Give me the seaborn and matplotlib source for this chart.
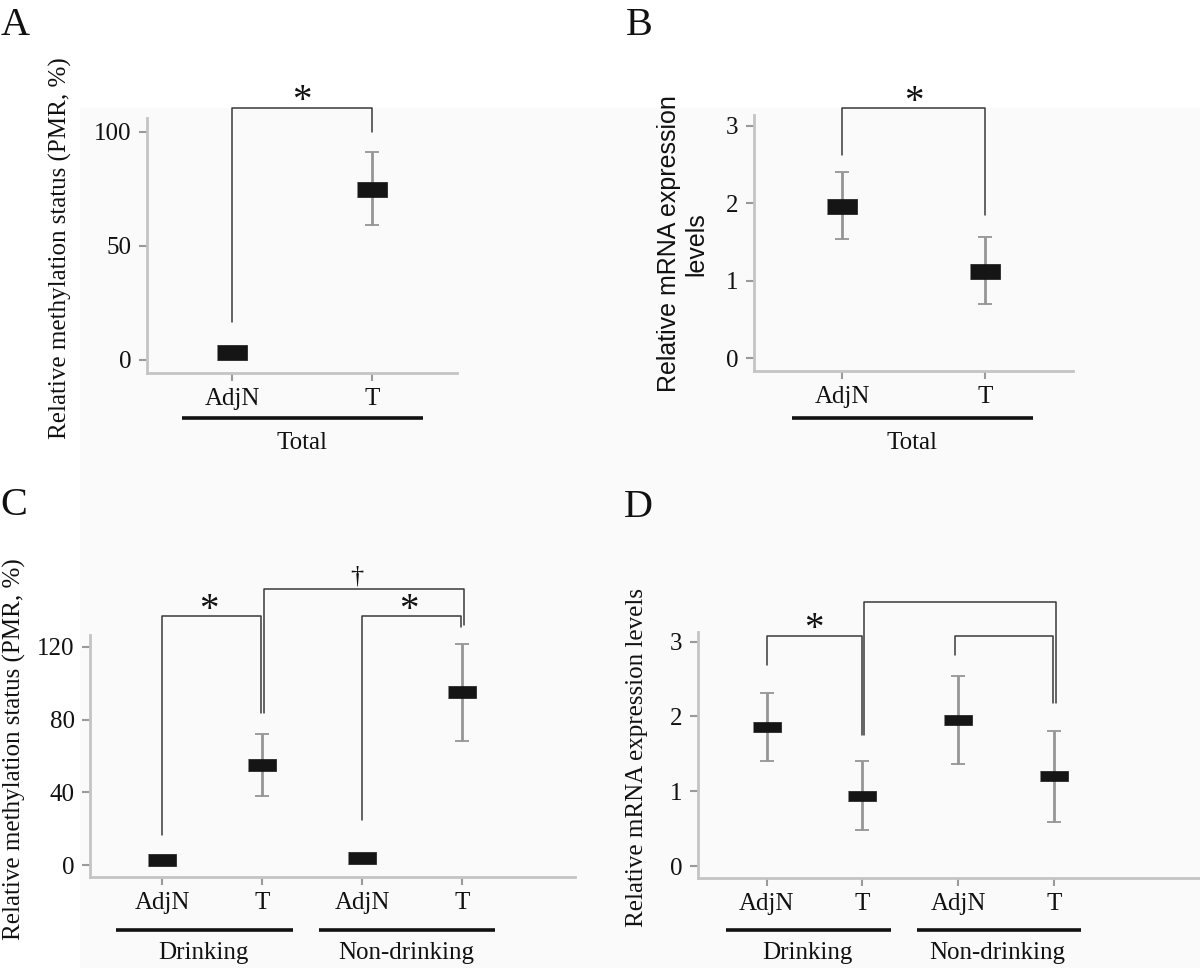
import numpy as np
import matplotlib.pyplot as plt
import matplotlib.patches as mpatches
import seaborn as sns

# values (mean marker and error-bar half length)
a_ticks = ["AdjN", "T"]
a_means = [3.3, 75.0]
a_err = [1.5, 16.0]

b_ticks = ["AdjN", "T"]
b_means = [1.97, 1.13]
b_err = [0.43, 0.43]

c_ticks = ["AdjN", "T", "AdjN", "T"]
c_means = [2.5, 55.0, 4.0, 95.0]
c_err = [1.5, 17.0, 1.5, 26.5]

d_ticks = ["AdjN", "T", "AdjN", "T"]
d_means = [1.86, 0.94, 1.95, 1.20]
d_err = [0.46, 0.46, 0.59, 0.61]

total_group = ["Total"]
drink_groups = ["Drinking", "Non-drinking"]

W, H = 1200, 968
FS = 18

sns.set_theme(style="white")
plt.rcParams["font.family"] = ["Liberation Serif", "DejaVu Serif"]

fig = plt.figure(figsize=(W / 100, H / 100), dpi=100)
fig.add_artist(mpatches.Rectangle((80 / W, 0), (W - 80) / W, (H - 108) / H,
                                  transform=fig.transFigure, color="#fafafa", zorder=0))


def px_axes(left, top, right, bottom):
    return fig.add_axes([left / W, 1 - bottom / H, (right - left) / W, (bottom - top) / H])


def draw_panel(ax, ticks, means, err, xlim, ylim, yticks, box_w, box_ratio):
    pos = np.arange(len(means))
    ax.set_facecolor("none")
    ax.errorbar(pos, means, yerr=err, fmt="none", ecolor="#959595",
                elinewidth=2.0, capsize=5, capthick=1.3, zorder=2)
    rect = [(-1, -box_ratio), (1, -box_ratio), (1, box_ratio), (-1, box_ratio)]
    sns.scatterplot(x=pos, y=means, marker=rect, s=box_w ** 2, color="#151515",
                    edgecolor="#151515", linewidth=0.5, ax=ax, zorder=3, legend=False)
    ax.set_xlim(*xlim)
    ax.set_ylim(*ylim)
    ax.set_xticks(pos)
    ax.set_xticklabels(ticks)
    ax.set_yticks(yticks)
    ax.set_yticklabels([str(t) for t in yticks])
    for side in ["top", "right"]:
        ax.spines[side].set_visible(False)
    for side in ["left", "bottom"]:
        ax.spines[side].set_color("#c4c4c4")
        ax.spines[side].set_linewidth(2.0)
    ax.tick_params(axis="both", direction="out", length=6, width=1.5, color="#9a9a9a",
                   labelsize=FS, labelcolor="#111111", pad=5, left=True, bottom=True)


def bracket(ax, x0, x1, y, y0, y1):
    ax.plot([x0, x0, x1, x1], [y0, y, y, y1], color="#3a3a3a", lw=1.1,
            clip_on=False, zorder=4)


def mark(ax, x, y, s="*", size=28, dy=-9):
    ax.annotate(s, xy=(x, y), xytext=(0, dy), textcoords="offset points",
                ha="center", va="bottom", fontsize=size, color="#111111",
                annotation_clip=False)


def group_line(ax, x0, x1, yf, label, xl, yl):
    ax.plot([x0, x1], [yf, yf], transform=ax.get_xaxis_transform(), color="#111111",
            lw=2.6, clip_on=False, solid_capstyle="butt")
    ax.text(xl, yl, label, transform=ax.get_xaxis_transform(), ha="center",
            va="center", fontsize=FS, color="#111111")


# panel A
axA = px_axes(147, 118, 457, 373)
draw_panel(axA, a_ticks, a_means, a_err, (-0.607, 1.607), (-5.7, 106.1),
           [0, 50, 100], 21.6, 0.5)
axA.set_ylabel("Relative methylation status (PMR, %)", fontsize=FS, color="#111111")
axA.yaxis.set_label_coords(-0.28, 0.49)
axA.yaxis.label.set_va("center")
bracket(axA, 0, 1, 110.5, 16.7, 100)
mark(axA, 0.5, 110.5)
group_line(axA, -0.357, 1.364, -0.176, total_group[0], 0.5, -0.275)

# panel B
axB = px_axes(754, 115, 1073, 371)
draw_panel(axB, b_ticks, b_means, b_err, (-0.615, 1.615), (-0.168, 3.142),
           [0, 1, 2, 3], 21.6, 0.5)
axB.set_ylabel("Relative mRNA expression\nlevels", fontsize=18, color="#111111",
               family=["Liberation Sans", "DejaVu Sans"], linespacing=1.2)
axB.yaxis.set_label_coords(-0.223, 0.496)
axB.yaxis.label.set_va("center")
bracket(axB, 0, 1, 3.23, 2.63, 1.85)
mark(axB, 0.5, 3.23)
group_line(axB, -0.35, 1.336, -0.184, total_group[0], 0.49, -0.28)

# panel C
axC = px_axes(90, 635, 575, 877)
draw_panel(axC, c_ticks, c_means, c_err, (-0.72, 4.13), (-6.6, 126.6),
           [0, 40, 80, 120], 20.0, 0.42)
axC.set_ylabel("Relative methylation status (PMR, %)", fontsize=FS, color="#111111")
axC.yaxis.set_label_coords(-0.155, 0.53)
axC.yaxis.label.set_va("center")
bracket(axC, 0, 0.985, 137, 16.5, 83.6)
bracket(axC, 1.015, 3.015, 152, 83.6, 132)
bracket(axC, 2, 2.99, 137, 24.8, 131)
mark(axC, 0.47, 137)
mark(axC, 2.47, 137)
mark(axC, 1.95, 152, s="\u2020", size=19, dy=1)
group_line(axC, -0.46, 1.31, -0.219, drink_groups[0], 0.41, -0.314)
group_line(axC, 1.565, 3.33, -0.219, drink_groups[1], 2.44, -0.314)

# panel D
axD = px_axes(698, 632, 1200, 878)
draw_panel(axD, d_ticks, d_means, d_err, (-0.72, 4.53), (-0.16, 3.13),
           [0, 1, 2, 3], 19.5, 0.4)
axD.set_ylabel("Relative mRNA expression levels", fontsize=FS, color="#111111")
axD.yaxis.set_label_coords(-0.122, 0.49)
axD.yaxis.label.set_va("center")
bracket(axD, 0, 0.99, 3.08, 2.69, 1.75)
bracket(axD, 1.02, 3.02, 3.53, 1.75, 2.18)
bracket(axD, 1.97, 2.99, 3.08, 2.82, 2.18)
mark(axD, 0.49, 3.08)
group_line(axD, -0.43, 1.30, -0.211, drink_groups[0], 0.42, -0.305)
group_line(axD, 1.57, 3.29, -0.211, drink_groups[1], 2.41, -0.305)

# panel letters
for letter, x, y in [("A", 1, 7), ("B", 626, 7), ("C", 0, 487), ("D", 624, 489)]:
    fig.text(x / W, 1 - y / H, letter, fontsize=29, ha="left", va="top", color="#111111")

fig.savefig("out.png", dpi=100)
